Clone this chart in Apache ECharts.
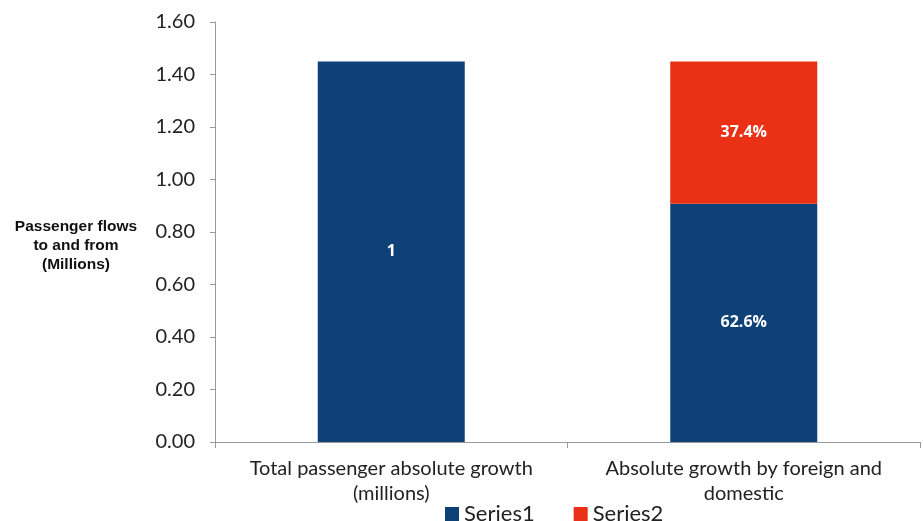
<!DOCTYPE html>
<html><head><meta charset="utf-8">
<script src="https://cdn.jsdelivr.net/npm/echarts@6/dist/echarts.min.js"></script>
<style>html,body{margin:0;padding:0;background:#fff}#c{width:923px;height:521px}</style>
</head><body><div id="c"></div>
<script>
const categories = ['Total passenger absolute growth\n(millions)', 'Absolute growth by foreign and\ndomestic'];
const series1 = [1.45, 0.908];
const series2 = [null, 0.542];
const labels1 = ['1', '62.6%'];
const labels2 = ['', '37.4%'];
const yTicks = [0, 0.2, 0.4, 0.6, 0.8, 1.0, 1.2, 1.4, 1.6];
const yName = 'Passenger flows\nto and from\n(Millions)';

const chart = echarts.init(document.getElementById('c'), null, {renderer: 'canvas'});
const font = 'Lato, "Open Sans", sans-serif';
chart.setOption({
  animation: false,
  grid: {left: 215, right: 3, top: 22, bottom: 79},
  legend: {
    left: 445, top: 502, itemWidth: 14, itemHeight: 14, itemGap: 39,
    icon: 'rect', padding: 0,
    textStyle: {fontFamily: font, fontSize: 22, color: '#222', lineHeight: 24},
    data: ['Series1', 'Series2']
  },
  graphic: [{
    type: 'text', left: 10, top: 217,
    style: {text: yName, font: 'bold 15.5px "Liberation Sans", Arial, sans-serif', fill: '#111', textAlign: 'center', lineHeight: 19, width: 132, align: 'center'}
  }],
  xAxis: {
    type: 'category', data: categories,
    axisLine: {lineStyle: {color: '#9a9a9a'}},
    axisTick: {show: true, length: 6, lineStyle: {color: '#9a9a9a'}},
    axisLabel: {fontFamily: font, fontSize: 20, color: '#222', lineHeight: 25, margin: 14, interval: 0, hideOverlap: false}
  },
  yAxis: {
    type: 'value', min: 0, max: 1.6, interval: 0.2,
    splitLine: {show: false},
    axisLine: {show: true, lineStyle: {color: '#9a9a9a'}},
    axisTick: {show: true, length: 5, lineStyle: {color: '#9a9a9a'}},
    axisLabel: {fontFamily: font, fontSize: 20, color: '#222', margin: 20,
      formatter: v => v.toFixed(2)}
  },
  series: [
    {name: 'Series1', type: 'bar', stack: 's', data: series1, barWidth: '41.7%',
      itemStyle: {color: '#0E4178'},
      label: {show: true, position: 'inside', color: '#fff', fontWeight: 'bold', fontSize: 16,
        fontFamily: '"Open Sans", sans-serif', formatter: p => labels1[p.dataIndex]}},
    {name: 'Series2', type: 'bar', stack: 's', data: series2, barWidth: '41.7%',
      itemStyle: {color: '#EA3015'},
      label: {show: true, position: 'inside', color: '#fff', fontWeight: 'bold', fontSize: 16,
        fontFamily: '"Open Sans", sans-serif', formatter: p => labels2[p.dataIndex]}}
  ]
});
</script></body></html>
